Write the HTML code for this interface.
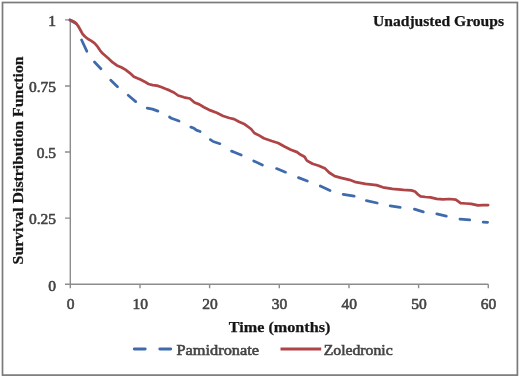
<!DOCTYPE html>
<html><head><meta charset="utf-8"><style>
html,body{margin:0;padding:0;background:#fff;}
svg{display:block;}

text{font-family:"Liberation Serif",serif;}
svg{will-change:transform;}
</style></head><body>
<svg width="520" height="378" viewBox="0 0 520 378">
<rect x="0" y="0" width="520" height="378" fill="#fff"/>
<g>
<rect x="2.5" y="2.5" width="514.9" height="372.6" fill="none" stroke="#7a7a7a" stroke-width="1.7"/>
<path d="M70.3 19.9V284.2H488.3" fill="none" stroke="#8c8c8c" stroke-width="1.4"/>
<path d="M65 284.2H70.3M65 218.1H70.3M65 152.0H70.3M65 86.0H70.3M65 19.9H70.3M70.3 284.2V288.2M140.0 284.2V288.2M209.6 284.2V288.2M279.3 284.2V288.2M349.0 284.2V288.2M418.6 284.2V288.2M488.3 284.2V288.2" fill="none" stroke="#8c8c8c" stroke-width="1.4"/>
<path d="M70.0 20.0L76.0 23.6M81.6 40.0L86.8 51.2M94.5 62.0L100.9 68.8M110.8 80.2L117.5 86.8M128.2 95.3L135.7 101.6M147.2 108.2L152.5 109.1L157.9 111.1M169.5 117.0L171.4 118.3L179.0 121.0M190.9 127.1L194.1 128.3L196.4 130.1L200.1 131.5M210.4 139.6L213.1 141.5L219.9 143.7M231.6 151.1L234.4 152.2L241.2 155.0M253.7 160.9L262.4 165.0M276.6 168.6L285.5 172.2M298.5 177.6L307.3 181.0M320.3 186.0L330.0 190.5M343.2 194.4L354.2 196.1M366.4 200.7L377.2 203.0M390.2 205.9L400.2 207.3M414.4 209.1L423.3 211.9M436.8 213.9L446.3 216.1M460.0 219.1L469.7 219.8M483.2 222.1L487.6 222.3" fill="none" stroke="#3f6aab" stroke-width="2.75" stroke-linecap="round" stroke-linejoin="round"/>
<path d="M70.0 20.0 L71.5 20.5 L73.5 21.4 L76.0 23.2 L78.0 25.8 L80.7 30.5 L82.5 33.8 L84.9 36.5 L88.0 39.0 L91.3 40.9 L94.5 43.2 L97.6 46.7 L100.0 50.3 L102.5 53.3 L104.2 54.8 L108.5 58.5 L112.7 62.4 L116.9 65.4 L121.2 67.2 L125.4 69.6 L129.6 72.8 L133.9 76.8 L138.1 78.6 L140.0 79.3 L144.2 81.4 L148.5 84.0 L152.7 85.1 L156.9 85.6 L161.2 87.0 L165.4 88.8 L169.6 90.4 L173.9 92.5 L178.1 95.5 L184.0 97.3 L189.8 98.5 L194.5 102.5 L199.3 104.4 L204.0 107.2 L210.4 110.4 L216.7 112.8 L223.1 116.0 L229.4 118.0 L234.2 119.1 L239.0 121.8 L244.8 124.3 L251.1 129.0 L254.3 133.0 L259.0 135.4 L263.8 138.3 L271.7 141.0 L278.1 143.0 L284.4 146.5 L290.8 149.7 L297.1 152.1 L299.8 154.3 L304.5 156.7 L306.9 160.6 L312.5 163.8 L318.8 165.7 L325.2 168.6 L329.1 172.5 L334.7 176.2 L341.0 177.8 L349.5 179.8 L355.9 182.2 L365.4 183.8 L376.5 185.1 L382.9 187.3 L392.4 188.9 L403.5 189.9 L411.4 190.4 L415.0 191.5 L418.0 194.5 L420.5 196.4 L425.6 197.0 L430.4 197.3 L436.7 198.9 L443.1 199.4 L449.4 199.0 L455.8 199.7 L460.6 203.1 L465.9 203.5 L471.2 203.8 L477.8 205.4 L483.1 205.1 L488.1 205.1" fill="none" stroke="#ae4446" stroke-width="2.75" stroke-linecap="round" stroke-linejoin="round"/>
<g font-size="15.5" fill="#444" stroke="#444" stroke-width="0.6"><text x="56" y="290.5" text-anchor="end">0</text><text x="56" y="224.4" text-anchor="end">0.25</text><text x="56" y="158.3" text-anchor="end">0.5</text><text x="56" y="92.3" text-anchor="end">0.75</text><text x="56" y="26.2" text-anchor="end">1</text><text x="70.6" y="308.6" text-anchor="middle">0</text><text x="140.3" y="308.6" text-anchor="middle">10</text><text x="209.9" y="308.6" text-anchor="middle">20</text><text x="279.6" y="308.6" text-anchor="middle">30</text><text x="349.3" y="308.6" text-anchor="middle">40</text><text x="418.9" y="308.6" text-anchor="middle">50</text><text x="488.6" y="308.6" text-anchor="middle">60</text></g>
<g font-weight="bold" font-size="15" fill="#151515" stroke="#151515" stroke-width="0.25">
<text x="373" y="26.2" textLength="131" lengthAdjust="spacingAndGlyphs">Unadjusted Groups</text>
<text transform="translate(23.4 264.4) rotate(-90)" x="0" y="0" textLength="208" lengthAdjust="spacingAndGlyphs">Survival Distribution Function</text>
<text x="228.8" y="332.3" textLength="101.6" lengthAdjust="spacingAndGlyphs">Time (months)</text>
</g>
<path d="M134.3 349H145.2M159.8 349H170.7" stroke="#3f6aab" stroke-width="2.9" stroke-linecap="round"/>
<path d="M280.5 349H321.2" stroke="#ae4446" stroke-width="2.9"/>
<g font-size="15" fill="#444" stroke="#444" stroke-width="0.6">
<text x="176.5" y="354.8" textLength="82.5" lengthAdjust="spacingAndGlyphs">Pamidronate</text>
<text x="323.7" y="354.8" textLength="69" lengthAdjust="spacingAndGlyphs">Zoledronic</text>
</g>
</g>
</svg>
</body></html>
